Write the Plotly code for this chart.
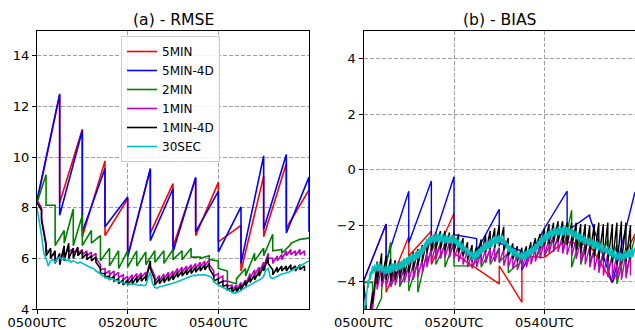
import plotly.graph_objects as go

# ---------------- categories / ticks ----------------
series_names = ["5MIN", "5MIN-4D", "2MIN", "1MIN", "1MIN-4D", "30SEC"]
series_colors = ["#ff0000", "#0000ff", "#008000", "#bf00bf", "#000000", "#00bfbf"]
x_tick_vals = [0, 20, 40]
x_tick_text = ["0500UTC", "0520UTC", "0540UTC"]
rmse_tick_vals = [4, 6, 8, 10, 12, 14]
bias_tick_vals = [-4, -2, 0, 2, 4]
bias_tick_text = ["\u22124", "\u22122", "0", "2", "4"]

# cycle lengths in minutes
cycle_5min = 5.0
cycle_2min = 2.0
cycle_1min = 1.0
cycle_30sec = 0.5

# ---------------- RMSE (a = value after analysis at cycle start, f = forecast at cycle end) ----------------
rmse_5min_a = [8.2, 8.2, 6.85, 6.9, 6.1, 7.0, 6.45, 6.9, 6.65, 5.5, 6.85, 7.2]
rmse_5min_f = [12.45, 11.1, 9.85, 8.35, 9.5, 8.95, 9.15, 9.0, 7.3, 9.25, 9.75, 8.7]

rmse_5min4d_a = [8.3, 7.7, 7.05, 7.25, 6.05, 6.7, 6.25, 7.05, 6.25, 5.8, 7.15, 7.0, 7.05]
rmse_5min4d_f = [12.5, 11.05, 9.55, 8.42, 9.55, 8.75, 9.2, 8.65, 8.03, 10.05, 10.1, 9.21]

rmse_2min_a = [8.2, 8.1, 6.5, 6.6, 6.5, 6.5, 6.6, 5.9, 5.7, 5.6,
               5.65, 5.7, 5.75, 5.85, 5.8, 5.95, 5.95, 6.05, 6.0, 5.95,
               5.6, 5.1, 5.2, 5.3, 5.9, 6.1, 6.3, 6.2, 6.6, 6.75]
rmse_2min_f = [9.3, 8.1, 7.1, 7.95, 7.7, 7.1, 6.9, 6.4, 6.3, 6.3,
               6.3, 6.25, 6.3, 6.3, 6.35, 6.3, 6.4, 6.05, 6.1, 5.9,
               5.5, 5.0, 5.6, 6.2, 6.4, 6.95, 6.35, 6.55, 6.75, 6.8]

rmse_1min_a = [8.3, 7.6, 6.3, 6.1, 5.95, 5.85, 6.05, 6.25, 6.2, 6.2,
               6.15, 6.1, 6.05, 6.0, 5.55, 5.4, 5.35, 5.3, 5.25, 5.15,
               5.1, 5.15, 5.2, 5.25, 5.25, 5.7, 5.1, 5.12, 5.18, 5.25,
               5.3, 5.4, 5.45, 5.5, 5.55, 5.6, 5.65, 5.7, 5.75, 5.3,
               5.2, 5.1, 4.9, 4.75, 4.75, 4.85, 4.95, 5.2, 5.35, 5.45,
               5.65, 6.0, 5.8, 5.9, 5.95, 6.1, 6.15, 6.1, 6.15, 6.1]
rmse_1min_f = [8.0, 6.6, 6.3, 6.15, 6.05, 6.3, 6.45, 6.4, 6.4, 6.35,
               6.3, 6.25, 6.2, 5.75, 5.6, 5.5, 5.5, 5.45, 5.35, 5.3,
               5.35, 5.4, 5.42, 5.45, 5.9, 5.3, 5.32, 5.38, 5.45, 5.5,
               5.6, 5.65, 5.7, 5.75, 5.8, 5.85, 5.9, 5.95, 5.5, 5.4,
               5.3, 5.1, 4.95, 4.95, 5.05, 5.15, 5.4, 5.55, 5.65, 5.85,
               6.2, 6.0, 6.1, 6.15, 6.3, 6.35, 6.3, 6.35, 6.3]

rmse_1min4d_a = [8.2, 7.5, 6.1, 6.0, 5.8, 5.75, 5.9, 6.0, 6.0, 6.1,
                 6.0, 5.95, 5.9, 5.85, 5.4, 5.25, 5.15, 5.1, 5.0, 4.95,
                 4.95, 5.0, 5.05, 5.1, 5.1, 5.6, 4.95, 5.0, 5.05, 5.1,
                 5.15, 5.25, 5.3, 5.35, 5.4, 5.45, 5.5, 5.55, 5.6, 5.1,
                 5.0, 4.9, 4.75, 4.65, 4.65, 4.75, 4.9, 5.05, 5.15, 5.3,
                 5.5, 5.8, 5.35, 5.45, 5.5, 5.5, 5.55, 5.5, 5.55, 5.5]
rmse_1min4d_f = [7.9, 6.5, 6.4, 6.3, 6.2, 6.5, 6.6, 6.4, 6.45, 6.3,
                 6.2, 6.1, 6.05, 5.6, 5.4, 5.3, 5.3, 5.2, 5.15, 5.15,
                 5.2, 5.25, 5.3, 5.3, 5.9, 5.15, 5.2, 5.25, 5.3, 5.35,
                 5.45, 5.5, 5.55, 5.6, 5.65, 5.7, 5.75, 5.8, 5.3, 5.2,
                 5.1, 4.95, 4.85, 4.85, 4.95, 5.1, 5.25, 5.35, 5.5, 5.7,
                 6.05, 5.55, 5.65, 5.7, 5.7, 5.75, 5.7, 5.75, 5.7]

# 30SEC RMSE sampled every 30 s
rmse_30sec = [8.0, 7.5, 6.9, 6.2, 6.0, 5.7, 5.9, 5.95, 5.85, 6.0,
              6.05, 5.95, 6.0, 5.9, 5.95, 5.85, 5.9, 5.85, 5.8, 5.85,
              5.8, 5.75, 5.7, 5.68, 5.62, 5.6, 5.5, 5.45, 5.4, 5.32,
              5.25, 5.22, 5.18, 5.2, 5.15, 5.12, 5.1, 5.05, 5.05, 5.0,
              5.0, 4.98, 4.97, 5.0, 4.95, 4.93, 4.95, 4.92, 4.95, 5.2,
              5.45, 5.0, 4.85, 4.82, 4.88, 4.9, 4.92, 4.95, 4.98, 5.0,
              5.02, 5.05, 5.08, 5.1, 5.15, 5.18, 5.22, 5.26, 5.3, 5.33,
              5.32, 5.35, 5.34, 5.36, 5.35, 5.32, 5.3, 5.25, 5.1, 5.0,
              4.95, 4.9, 4.85, 4.82, 4.75, 4.7, 4.65, 4.62, 4.65, 4.68,
              4.72, 4.8, 4.85, 4.9, 4.95, 5.0, 5.05, 5.1, 5.15, 5.2,
              5.3, 5.55, 5.6, 5.25, 5.2, 5.25, 5.3, 5.35, 5.38, 5.4,
              5.42, 5.45, 5.5, 5.55, 5.6, 5.65, 5.7, 5.75, 5.8, 5.85,
              5.9]

# ---------------- BIAS ----------------
bias_5min_a = [-4.0, -4.4, -3.1, -3.4, -3.0, -3.55, -3.45, -3.1, -3.15, -2.6, -2.7, -4.05]
bias_5min_f = [-1.95, -2.4, -2.2, -1.56, -3.55, -4.1, -4.76, -3.15, -2.5, -2.7, -4.05, -2.3]

bias_5min4d_a = [-4.0, -3.3, -2.63, -2.75, -2.33, -2.92, -2.63, -3.6, -2.1, -2.2, -1.7, -4.05]
bias_5min4d_f = [-1.95, -0.77, -0.4, -0.25, -2.47, -1.42, -2.92, -2.1, -0.77, -1.62, -4.05, -0.8]

bias_2min_a = [-4.05, -5.3, -4.3, -4.2, -4.2, -4.35, -4.4, -3.3, -3.4, -3.5,
               -3.45, -3.45, -3.5, -3.5, -3.4, -3.3, -3.7, -3.5, -3.3, -3.2,
               -3.1, -2.9, -3.0, -3.5, -3.4, -3.3, -3.5, -3.6, -4.1, -3.7]
bias_2min_f = [-4.05, -4.6, -2.6, -3.5, -3.5, -3.3, -3.0, -2.6, -2.7, -2.6,
               -3.45, -3.45, -3.0, -2.9, -2.8, -3.0, -3.4, -3.0, -2.8, -2.6,
               -2.4, -1.9, -1.45, -2.4, -2.3, -2.5, -2.5, -2.7, -2.8, -2.4]

bias_1min_a = [-4.1, -5.8, -5.0, -4.3, -4.2, -4.2, -4.2, -4.15, -4.1, -4.05,
               -4.0, -3.95, -3.85, -3.7, -3.5, -3.3, -3.2, -3.2, -3.15, -3.15,
               -3.2, -3.3, -3.4, -3.5, -3.55, -3.5, -3.4, -3.35, -3.3, -3.3,
               -3.35, -3.45, -3.5, -3.55, -3.6, -3.55, -3.5, -3.4, -3.3, -3.2,
               -3.1, -3.0, -2.95, -2.95, -3.0, -3.05, -3.1, -3.2, -3.3, -3.4,
               -3.5, -3.6, -3.7, -3.8, -3.85, -3.9, -3.95, -3.95, -3.9, -3.8]
bias_1min_f = [-5.5, -4.6, -3.6, -3.5, -3.5, -3.55, -3.6, -3.55, -3.5, -3.45,
               -3.4, -3.3, -3.2, -3.0, -2.8, -2.7, -2.65, -2.6, -2.6, -2.6,
               -2.7, -2.8, -2.9, -3.0, -3.05, -2.95, -2.85, -2.8, -2.75, -2.8,
               -2.85, -2.9, -3.0, -3.0, -3.05, -3.0, -2.9, -2.8, -2.65, -2.55,
               -2.45, -2.4, -2.35, -2.35, -2.4, -2.45, -2.5, -2.55, -2.65, -2.75,
               -2.85, -2.9, -2.95, -3.0, -3.0, -3.0, -3.05, -3.0, -3.0]

bias_1min4d_a = [-4.0, -5.6, -4.8, -4.1, -4.0, -3.95, -4.0, -3.95, -3.9, -3.8,
                 -3.7, -3.6, -3.45, -3.3, -3.0, -2.9, -2.85, -2.85, -2.9, -2.9,
                 -2.95, -3.0, -3.1, -3.25, -3.3, -3.2, -3.05, -2.95, -2.85, -2.8,
                 -2.75, -2.9, -3.1, -3.2, -3.3, -3.25, -3.2, -3.05, -2.9, -2.8,
                 -2.7, -2.65, -2.6, -2.6, -2.65, -2.7, -2.8, -2.9, -3.0, -3.05,
                 -3.1, -3.15, -3.2, -3.25, -3.3, -3.35, -3.4, -3.35, -3.3, -3.2]
bias_1min4d_f = [-5.3, -4.4, -3.3, -3.0, -3.1, -3.2, -3.25, -3.3, -3.2, -3.1,
                 -2.95, -2.85, -2.7, -2.5, -2.3, -2.25, -2.2, -2.2, -2.25, -2.25,
                 -2.3, -2.45, -2.6, -2.7, -2.75, -2.5, -2.35, -2.2, -2.1, -2.0,
                 -2.05, -2.45, -2.65, -2.75, -2.8, -2.75, -2.6, -2.45, -2.3, -2.1,
                 -1.95, -1.9, -1.85, -1.85, -1.9, -1.9, -1.9, -1.95, -1.95, -2.0,
                 -1.95, -1.9, -1.95, -1.9, -1.95, -1.9, -1.85, -1.9, -2.0]

bias_30sec_a = [-5.35, -4.85, -4.25, -3.95, -3.75, -3.7, -3.65, -3.65, -3.7, -3.75,
                -3.75, -3.73, -3.7, -3.67, -3.65, -3.63, -3.6, -3.55, -3.5, -3.45,
                -3.4, -3.35, -3.3, -3.25, -3.2, -3.13, -3.05, -2.93, -2.8, -2.7,
                -2.65, -2.62, -2.6, -2.6, -2.6, -2.62, -2.65, -2.65, -2.65, -2.65,
                -2.65, -2.73, -2.8, -2.87, -2.95, -3.03, -3.1, -3.17, -3.25, -3.23,
                -3.2, -3.13, -3.05, -2.97, -2.9, -2.85, -2.8, -2.75, -2.7, -2.67,
                -2.65, -2.65, -2.7, -2.83, -2.95, -3.03, -3.1, -3.15, -3.2, -3.23,
                -3.25, -3.23, -3.2, -3.15, -3.1, -3.03, -2.95, -2.85, -2.75, -2.67,
                -2.6, -2.55, -2.5, -2.45, -2.4, -2.37, -2.35, -2.35, -2.35, -2.35,
                -2.35, -2.37, -2.4, -2.45, -2.5, -2.55, -2.6, -2.65, -2.7, -2.73,
                -2.75, -2.8, -2.85, -2.87, -2.9, -2.95, -3.0, -3.03, -3.05, -3.1,
                -3.15, -3.2, -3.25, -3.27, -3.3, -3.25, -3.2, -3.17, -3.15, -3.13]
bias_30sec_f = [-4.55, -3.95, -3.65, -3.45, -3.4, -3.35, -3.35, -3.4, -3.45, -3.45,
                -3.43, -3.4, -3.37, -3.35, -3.33, -3.3, -3.25, -3.2, -3.15, -3.1,
                -3.05, -3.0, -2.95, -2.9, -2.83, -2.75, -2.63, -2.5, -2.4, -2.35,
                -2.32, -2.3, -2.3, -2.3, -2.32, -2.35, -2.35, -2.35, -2.35, -2.35,
                -2.43, -2.5, -2.57, -2.65, -2.73, -2.8, -2.87, -2.95, -2.93, -2.9,
                -2.83, -2.75, -2.67, -2.6, -2.55, -2.5, -2.45, -2.4, -2.37, -2.35,
                -2.35, -2.4, -2.53, -2.65, -2.73, -2.8, -2.85, -2.9, -2.93, -2.95,
                -2.93, -2.9, -2.85, -2.8, -2.73, -2.65, -2.55, -2.45, -2.37, -2.3,
                -2.25, -2.2, -2.15, -2.1, -2.07, -2.05, -2.05, -2.05, -2.05, -2.05,
                -2.07, -2.1, -2.15, -2.2, -2.25, -2.3, -2.35, -2.4, -2.43, -2.45,
                -2.5, -2.55, -2.57, -2.6, -2.65, -2.7, -2.73, -2.75, -2.8, -2.85,
                -2.9, -2.95, -2.97, -3.0, -2.95, -2.9, -2.87, -2.85, -2.83, -2.8]


def sawtooth(a_vals, f_vals, step):
    """Join analysis (cycle start) and forecast (cycle end) values into one polyline."""
    xs, ys = [], []
    for k, a in enumerate(a_vals):
        xs.append(k * step)
        ys.append(a)
        if k < len(f_vals):
            xs.append((k + 1) * step)
            ys.append(f_vals[k])
    return xs, ys


rmse_series = [
    sawtooth(rmse_5min_a, rmse_5min_f, cycle_5min),
    sawtooth(rmse_5min4d_a, rmse_5min4d_f, cycle_5min),
    sawtooth(rmse_2min_a, rmse_2min_f, cycle_2min),
    sawtooth(rmse_1min_a, rmse_1min_f, cycle_1min),
    sawtooth(rmse_1min4d_a, rmse_1min4d_f, cycle_1min),
    ([i * cycle_30sec for i in range(len(rmse_30sec))], rmse_30sec),
]
bias_series = [
    sawtooth(bias_5min_a, bias_5min_f, cycle_5min),
    sawtooth(bias_5min4d_a, bias_5min4d_f, cycle_5min),
    sawtooth(bias_2min_a, bias_2min_f, cycle_2min),
    sawtooth(bias_1min_a, bias_1min_f, cycle_1min),
    sawtooth(bias_1min4d_a, bias_1min4d_f, cycle_1min),
    sawtooth(bias_30sec_a, bias_30sec_f, cycle_30sec),
]

FONT = "DejaVu Sans"
LW = 1.6

fig = go.Figure()
for name, color, (xs, ys) in zip(series_names, series_colors, rmse_series):
    fig.add_trace(go.Scatter(x=xs, y=ys, mode="lines", name=name,
                             line=dict(color=color, width=LW),
                             xaxis="x", yaxis="y", showlegend=True))
for name, color, (xs, ys) in zip(series_names, series_colors, bias_series):
    fig.add_trace(go.Scatter(x=xs, y=ys, mode="lines", name=name,
                             line=dict(color=color, width=1.4),
                             xaxis="x2", yaxis="y2", showlegend=False))

W, H = 635, 330
common_axis = dict(
    showline=True, linecolor="black", linewidth=1, mirror=True,
    ticks="outside", ticklen=4, tickwidth=1, tickcolor="black",
    showgrid=True, gridcolor="#a0a0a0", gridwidth=1, griddash="4px,2px",
    zeroline=False, automargin=False,
    tickfont=dict(family=FONT, size=13, color="black"),
)
x_extra = dict(ticklabelstandoff=-3)
y_dom = [21 / H, 299.5 / H]

fig.update_layout(
    template="none",
    width=W, height=H,
    margin=dict(l=0, r=0, t=0, b=0, autoexpand=False),
    paper_bgcolor="white", plot_bgcolor="white",
    font=dict(family=FONT, size=13, color="black"),
    xaxis=dict(domain=[37 / W, 309 / W], range=[0, 60], anchor="y",
               tickmode="array", tickvals=x_tick_vals, ticktext=x_tick_text,
               **common_axis, **x_extra),
    yaxis=dict(domain=y_dom, range=[4, 15], anchor="x",
               tickmode="array", tickvals=rmse_tick_vals, **common_axis),
    xaxis2=dict(domain=[363.5 / W, 1.0], range=[0, 60], anchor="y2",
                tickmode="array", tickvals=x_tick_vals, ticktext=x_tick_text,
                **common_axis, **x_extra),
    yaxis2=dict(domain=y_dom, range=[-5, 5], anchor="x2",
                tickmode="array", tickvals=bias_tick_vals, ticktext=bias_tick_text, **common_axis),
    legend=dict(x=121 / W, y=1 - 36 / H, xanchor="left", yanchor="top",
                bgcolor="rgba(255,255,255,0.85)", bordercolor="#cccccc", borderwidth=1,
                font=dict(family=FONT, size=12, color="black"), tracegroupgap=0),
    annotations=[
        dict(text="(a) - RMSE", x=(37 + 309) / 2 / W, y=1 - 20 / H, xref="paper", yref="paper",
             xanchor="center", yanchor="middle", showarrow=False,
             font=dict(family=FONT, size=15.6, color="black")),
        dict(text="(b) - BIAS", x=(364 + 635) / 2 / W, y=1 - 20 / H, xref="paper", yref="paper",
             xanchor="center", yanchor="middle", showarrow=False,
             font=dict(family=FONT, size=15.6, color="black")),
    ],
)

fig.write_html("out.html")
